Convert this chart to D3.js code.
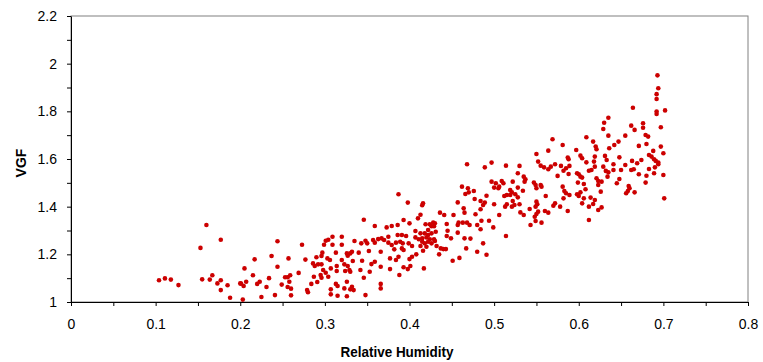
<!DOCTYPE html>
<html>
<head>
<meta charset="utf-8">
<script src="https://cdn.jsdelivr.net/npm/d3@7/dist/d3.min.js"></script>
<style>
    body { margin: 0; background: #ffffff; }
    svg text { font-family: "Liberation Sans", Arial, sans-serif; }
</style>
</head>
<body>
<svg id="viz_svg01" width="763" height="362"></svg>
<script>
// Relative humidity of each sample (x values).
const humidity = [
    0.160, 0.177, 0.153, 0.104, 0.111, 0.118, 0.127, 0.155, 0.164, 0.167, 0.177, 0.173, 0.177, 0.185, 0.188, 0.200,
    0.244, 0.237, 0.217, 0.257, 0.205, 0.244, 0.215, 0.269, 0.259, 0.253, 0.256, 0.234, 0.207, 0.201, 0.204, 0.223,
    0.220, 0.258, 0.249, 0.231, 0.256, 0.260, 0.241, 0.260, 0.225, 0.203,
    0.273, 0.277, 0.309, 0.320, 0.301, 0.304, 0.299, 0.309, 0.320, 0.297, 0.313, 0.326, 0.290, 0.296, 0.303, 0.306,
    0.320, 0.286, 0.288, 0.292, 0.296, 0.314, 0.323, 0.327, 0.307, 0.298, 0.301, 0.314, 0.324, 0.295, 0.296, 0.287,
    0.304, 0.291, 0.284, 0.313, 0.315, 0.307, 0.279, 0.280, 0.323, 0.307, 0.315, 0.326,
    0.387, 0.346, 0.359, 0.373, 0.379, 0.386, 0.386, 0.375, 0.363, 0.367, 0.370, 0.357, 0.359, 0.375, 0.379, 0.384,
    0.348, 0.350, 0.335, 0.343, 0.340, 0.352, 0.366, 0.332, 0.330, 0.327, 0.382, 0.387, 0.377, 0.333, 0.344, 0.359,
    0.355, 0.366, 0.329, 0.330, 0.342, 0.353, 0.377, 0.346, 0.388, 0.366, 0.366, 0.326, 0.332, 0.330, 0.334, 0.348,
    0.398, 0.416, 0.415, 0.413, 0.436, 0.441, 0.410, 0.393, 0.400, 0.419, 0.424, 0.428, 0.430, 0.426, 0.429, 0.444,
    0.422, 0.431, 0.445, 0.407, 0.413, 0.418, 0.422, 0.426, 0.391, 0.396, 0.407, 0.411, 0.415, 0.420, 0.424, 0.429,
    0.444, 0.389, 0.392, 0.399, 0.415, 0.418, 0.422, 0.426, 0.430, 0.413, 0.416, 0.420, 0.403, 0.432, 0.391, 0.393,
    0.437, 0.440, 0.443, 0.435, 0.408, 0.403, 0.400, 0.384, 0.401, 0.393, 0.398, 0.417,
    0.468, 0.489, 0.497, 0.497, 0.502, 0.506, 0.500, 0.462, 0.469, 0.470, 0.466, 0.476, 0.491, 0.477, 0.457, 0.484,
    0.489, 0.487, 0.500, 0.464, 0.465, 0.484, 0.452, 0.478, 0.506, 0.485, 0.494, 0.458, 0.457, 0.463, 0.468, 0.471,
    0.480, 0.499, 0.484, 0.457, 0.449, 0.465, 0.472, 0.487, 0.467, 0.480, 0.491, 0.459, 0.451,
    0.550, 0.564, 0.552, 0.555, 0.559, 0.564, 0.514, 0.530, 0.528, 0.535, 0.537, 0.536, 0.522, 0.509, 0.511, 0.505,
    0.547, 0.549, 0.550, 0.555, 0.556, 0.528, 0.519, 0.521, 0.525, 0.528, 0.519, 0.534, 0.512, 0.515, 0.561, 0.522,
    0.530, 0.524, 0.521, 0.515, 0.513, 0.550, 0.551, 0.549, 0.542, 0.560, 0.531, 0.535, 0.552, 0.550, 0.548, 0.564,
    0.549, 0.556, 0.543, 0.514,
    0.609, 0.569, 0.617, 0.620, 0.621, 0.581, 0.597, 0.602, 0.604, 0.609, 0.619, 0.587, 0.588, 0.618, 0.572, 0.567,
    0.579, 0.589, 0.585, 0.582, 0.615, 0.612, 0.619, 0.588, 0.598, 0.600, 0.602, 0.604, 0.575, 0.621, 0.623, 0.599,
    0.606, 0.623, 0.581, 0.583, 0.585, 0.582, 0.608, 0.602, 0.598, 0.600, 0.589, 0.614, 0.606, 0.619, 0.572, 0.570,
    0.604, 0.617, 0.578, 0.612, 0.623, 0.587, 0.612,
    0.664, 0.635, 0.630, 0.629, 0.662, 0.666, 0.635, 0.655, 0.647, 0.642, 0.636, 0.671, 0.631, 0.633, 0.648, 0.663,
    0.669, 0.641, 0.655, 0.629, 0.632, 0.635, 0.641, 0.650, 0.662, 0.665, 0.671, 0.634, 0.648, 0.627, 0.645, 0.659,
    0.660, 0.658, 0.656, 0.666, 0.626, 0.627,
    0.693, 0.694, 0.692, 0.692, 0.702, 0.692, 0.692, 0.676, 0.676, 0.697, 0.679, 0.682, 0.680, 0.697, 0.688, 0.700,
    0.683, 0.686, 0.674, 0.689, 0.691, 0.694, 0.694, 0.690, 0.683, 0.680, 0.689, 0.700, 0.679, 0.701
];

// VGF of each sample (y values), same order as humidity.
const vgf = [
    1.323, 1.261, 1.227, 1.091, 1.099, 1.094, 1.071, 1.095, 1.094, 1.112, 1.091, 1.078, 1.050, 1.070, 1.018, 1.078,
    1.255, 1.193, 1.179, 1.183, 1.141, 1.148, 1.112, 1.122, 1.112, 1.104, 1.104, 1.100, 1.085, 1.077, 1.067, 1.085,
    1.076, 1.085, 1.073, 1.063, 1.063, 1.056, 1.029, 1.028, 1.021, 1.010,
    1.240, 1.178, 1.274, 1.274, 1.257, 1.261, 1.240, 1.240, 1.240, 1.207, 1.207, 1.204, 1.188, 1.193, 1.183, 1.176,
    1.176, 1.162, 1.151, 1.158, 1.158, 1.151, 1.158, 1.151, 1.141, 1.134, 1.123, 1.130, 1.130, 1.113, 1.102, 1.106,
    1.106, 1.084, 1.076, 1.076, 1.067, 1.053, 1.050, 1.041, 1.057, 1.032, 1.026, 1.024,
    1.452, 1.345, 1.319, 1.313, 1.319, 1.323, 1.281, 1.274, 1.264, 1.267, 1.260, 1.260, 1.249, 1.249, 1.239, 1.249,
    1.257, 1.246, 1.256, 1.246, 1.207, 1.214, 1.211, 1.211, 1.204, 1.194, 1.221, 1.190, 1.183, 1.172, 1.173, 1.169,
    1.159, 1.148, 1.134, 1.127, 1.134, 1.127, 1.138, 1.102, 1.113, 1.076, 1.057, 1.085, 1.064, 1.053, 1.050, 1.029,
    1.417, 1.414, 1.406, 1.366, 1.375, 1.365, 1.351, 1.344, 1.330, 1.326, 1.326, 1.333, 1.330, 1.318, 1.318, 1.327,
    1.302, 1.295, 1.299, 1.298, 1.288, 1.288, 1.281, 1.288, 1.281, 1.277, 1.271, 1.263, 1.267, 1.271, 1.263, 1.263,
    1.277, 1.253, 1.246, 1.246, 1.253, 1.246, 1.253, 1.246, 1.256, 1.235, 1.215, 1.232, 1.235, 1.235, 1.225, 1.218,
    1.225, 1.222, 1.222, 1.200, 1.200, 1.190, 1.180, 1.176, 1.151, 1.146, 1.138, 1.141,
    1.578, 1.565, 1.585, 1.505, 1.498, 1.484, 1.480, 1.484, 1.477, 1.460, 1.453, 1.466, 1.446, 1.432, 1.418, 1.424,
    1.417, 1.407, 1.410, 1.393, 1.375, 1.389, 1.365, 1.368, 1.365, 1.341, 1.341, 1.333, 1.323, 1.333, 1.333, 1.323,
    1.323, 1.313, 1.305, 1.291, 1.267, 1.267, 1.266, 1.246, 1.225, 1.211, 1.198, 1.185, 1.173,
    1.621, 1.635, 1.589, 1.572, 1.565, 1.557, 1.572, 1.571, 1.540, 1.526, 1.515, 1.505, 1.505, 1.508, 1.498, 1.477,
    1.501, 1.491, 1.477, 1.491, 1.484, 1.480, 1.470, 1.460, 1.452, 1.439, 1.449, 1.467, 1.445, 1.449, 1.445, 1.424,
    1.410, 1.407, 1.400, 1.410, 1.400, 1.421, 1.410, 1.400, 1.390, 1.382, 1.376, 1.365, 1.379, 1.369, 1.358, 1.375,
    1.340, 1.333, 1.323, 1.277,
    1.691, 1.683, 1.673, 1.652, 1.641, 1.659, 1.638, 1.614, 1.603, 1.586, 1.610, 1.606, 1.599, 1.589, 1.578, 1.568,
    1.571, 1.571, 1.561, 1.551, 1.554, 1.551, 1.568, 1.537, 1.540, 1.536, 1.526, 1.522, 1.529, 1.519, 1.508, 1.501,
    1.495, 1.491, 1.484, 1.466, 1.456, 1.435, 1.473, 1.460, 1.452, 1.445, 1.449, 1.438, 1.435, 1.428, 1.414, 1.404,
    1.414, 1.411, 1.400, 1.400, 1.386, 1.382, 1.344,
    1.815, 1.773, 1.752, 1.726, 1.740, 1.722, 1.698, 1.698, 1.673, 1.659, 1.645, 1.655, 1.613, 1.596, 1.607, 1.592,
    1.582, 1.578, 1.575, 1.568, 1.550, 1.544, 1.554, 1.554, 1.554, 1.557, 1.536, 1.526, 1.516, 1.505, 1.498, 1.487,
    1.477, 1.466, 1.456, 1.460, 1.463, 1.397,
    1.951, 1.897, 1.872, 1.852, 1.804, 1.799, 1.789, 1.750, 1.731, 1.733, 1.701, 1.694, 1.663, 1.652, 1.634, 1.624,
    1.617, 1.610, 1.596, 1.599, 1.592, 1.585, 1.578, 1.565, 1.558, 1.530, 1.540, 1.533, 1.501, 1.435
];

// Axis ticks and their labels.
const xTickValues = [0, 0.1, 0.2, 0.3, 0.4, 0.5, 0.6, 0.7, 0.8];
const xTickLabels = ["0", "0.1", "0.2", "0.3", "0.4", "0.5", "0.6", "0.7", "0.8"];
const xMinorTicks = [0.05, 0.15, 0.25, 0.35, 0.45, 0.55, 0.65, 0.75];
const yTickValues = [1, 1.2, 1.4, 1.6, 1.8, 2, 2.2];
const yTickLabels = ["1", "1.2", "1.4", "1.6", "1.8", "2", "2.2"];
const yMinorTicks = [1.1, 1.3, 1.5, 1.7, 1.9, 2.1];

const xTitle = "Relative Humidity";
const yTitle = "VGF";

// Plot area placement inside the 763x362 svg.
const plotLeft = 71;
const plotRight = 748;
const plotTop = 16;
const plotBottom = 302;
const pointColor = "#cc0000";

document.addEventListener("DOMContentLoaded", function(){
    const svg = d3.select("#viz_svg01");

    // Scales for the two axes.
    const scaleX = d3.scaleLinear()
        .domain([0, 0.8])
        .range([plotLeft, plotRight]);
    const scaleY = d3.scaleLinear()
        .domain([1, 2.2])
        .range([plotBottom, plotTop]);

    // Plot area border (top and right in grey).
    svg.append("rect")
        .attr("x", plotLeft)
        .attr("y", plotTop)
        .attr("width", plotRight - plotLeft)
        .attr("height", plotBottom - plotTop)
        .style("fill", "none")
        .style("stroke", "#808080")
        .style("stroke-width", 1);

    // Points.
    const points = humidity.map((h, i) => ({x: h, y: vgf[i]}));
    svg.append("g")
        .attr("id", "points")
        .selectAll("circle")
        .data(points)
        .enter()
        .append("circle")
        .attr("cx", d => scaleX(d.x))
        .attr("cy", d => scaleY(d.y))
        .attr("r", 2.3)
        .style("fill", pointColor);

    // Minor ticks first, then the major axes on top.
    svg.append("g")
        .attr("transform", `translate(${plotLeft},0)`)
        .call(d3.axisLeft(scaleY).tickValues(yMinorTicks).tickFormat("").tickSize(4).tickSizeOuter(0))
        .call(g => g.select(".domain").remove());
    svg.append("g")
        .attr("transform", `translate(0,${plotBottom})`)
        .call(d3.axisBottom(scaleX).tickValues(xMinorTicks).tickFormat("").tickSize(4).tickSizeOuter(0))
        .call(g => g.select(".domain").remove());

    svg.append("g")
        .attr("id", "yAxis")
        .attr("transform", `translate(${plotLeft},0)`)
        .call(d3.axisLeft(scaleY)
            .tickValues(yTickValues)
            .tickFormat((d, i) => yTickLabels[i])
            .tickSize(4)
            .tickSizeOuter(0)
            .tickPadding(10));

    svg.append("g")
        .attr("id", "xAxis")
        .attr("transform", `translate(0,${plotBottom})`)
        .call(d3.axisBottom(scaleX)
            .tickValues(xTickValues)
            .tickFormat((d, i) => xTickLabels[i])
            .tickSize(4)
            .tickSizeOuter(0)
            .tickPadding(13));

    svg.selectAll(".tick text")
        .style("font-size", "14px")
        .style("fill", "#000");
    svg.selectAll(".tick line, .domain")
        .style("stroke", "#000");

    // Axis titles.
    svg.append("text")
        .attr("x", 397)
        .attr("y", 357)
        .attr("text-anchor", "middle")
        .attr("textLength", 113)
        .attr("lengthAdjust", "spacingAndGlyphs")
        .style("font-size", "14px")
        .style("font-weight", "bold")
        .text(xTitle);
    svg.append("text")
        .attr("transform", `translate(26,${(plotTop + plotBottom) / 2 + 4}) rotate(-90)`)
        .attr("text-anchor", "middle")
        .style("font-size", "14px")
        .style("font-weight", "bold")
        .text(yTitle);
});
</script>
</body>
</html>
